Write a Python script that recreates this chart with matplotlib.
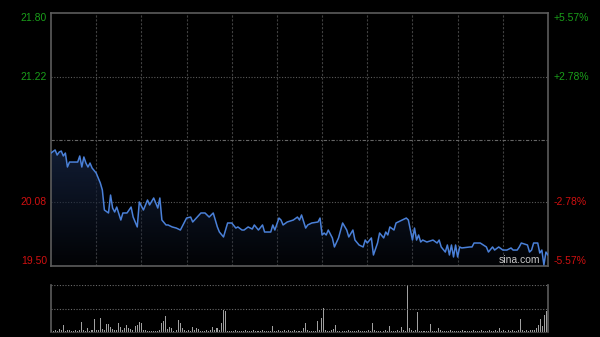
import matplotlib.pyplot as plt
import numpy as np

# price samples (minute index, price)
minutes = [0, 2, 3, 4, 5, 6, 7, 8, 9, 13, 14, 15, 16, 17, 18, 19, 20, 22, 24, 25,
           26, 28, 29, 30, 31, 32, 34, 35, 37, 39, 40, 42, 43, 45, 47, 48, 50, 52, 53, 54,
           56, 57, 59, 61, 63, 66, 68, 69, 73, 75, 77, 79, 81, 82, 84, 86, 88, 90, 91, 93,
           94, 96, 98, 99, 101, 103, 104, 107, 108, 109, 111, 112, 113, 115, 118, 120, 121, 122, 124, 125,
           127, 130, 131, 132, 133, 134, 135, 137, 138, 140, 142, 144, 145, 147, 148, 150, 152, 153, 154, 156,
           157, 159, 160, 162, 163, 164, 165, 167, 168, 171, 173, 174, 175, 176, 177, 178, 179, 180, 181, 183,
           186, 188, 189, 190, 192, 193, 194, 195, 196, 197, 198, 199, 200, 204, 205, 206, 209, 212, 213, 215,
           216, 218, 220, 222, 224, 225, 227, 228, 229, 232, 233, 234, 235, 237, 238, 239, 240, 241, 242]
prices = [20.527, 20.555, 20.509, 20.536, 20.545, 20.500, 20.527, 20.400, 20.445, 20.445,
          20.500, 20.400, 20.491, 20.436, 20.400, 20.436, 20.391, 20.345, 20.255, 20.191,
          20.009, 19.982, 20.145, 20.027, 19.991, 20.036, 19.918, 19.982, 19.982, 20.036,
          19.945, 19.855, 20.082, 20.009, 20.100, 20.055, 20.118, 20.027, 20.118, 19.918,
          19.873, 19.873, 19.855, 19.845, 19.827, 19.936, 19.945, 19.900, 19.982, 19.982,
          19.945, 19.982, 19.855, 19.809, 19.764, 19.891, 19.891, 19.845, 19.855, 19.827,
          19.827, 19.855, 19.836, 19.873, 19.827, 19.873, 19.809, 19.809, 19.873, 19.827,
          19.936, 19.918, 19.873, 19.900, 19.918, 19.945, 19.918, 19.964, 19.845, 19.873,
          19.891, 19.900, 19.936, 19.782, 19.800, 19.782, 19.827, 19.755, 19.673, 19.755,
          19.891, 19.827, 19.764, 19.827, 19.736, 19.691, 19.673, 19.736, 19.709, 19.755,
          19.600, 19.709, 19.800, 19.755, 19.809, 19.782, 19.855, 19.827, 19.891, 19.918,
          19.936, 19.918, 19.827, 19.736, 19.845, 19.736, 19.782, 19.718, 19.736, 19.718,
          19.736, 19.709, 19.736, 19.673, 19.627, 19.691, 19.600, 19.691, 19.582, 19.691,
          19.582, 19.673, 19.664, 19.673, 19.673, 19.709, 19.709, 19.673, 19.627, 19.673,
          19.645, 19.673, 19.645, 19.645, 19.664, 19.645, 19.645, 19.673, 19.709, 19.691,
          19.627, 19.645, 19.709, 19.709, 19.618, 19.645, 19.510, 19.627, 19.600]

# volume per minute, relative to the tallest bar
volumes = [4, 3, 5, 3, 6, 4, 15, 3, 4, 5, 3, 2, 4, 3, 5, 22, 4, 3, 8, 3, 4, 28,
           5, 4, 30, 6, 5, 17, 17, 10, 6, 5, 4, 19, 10, 5, 8, 15, 8, 6, 5, 13, 15, 21,
           19, 5, 4, 3, 3, 2, 3, 2, 3, 4, 19, 23, 34, 6, 10, 8, 3, 4, 26, 19, 8, 4,
           3, 4, 3, 10, 4, 8, 6, 3, 2, 3, 4, 3, 4, 10, 4, 8, 5, 19, 47, 45, 3, 2,
           3, 2, 4, 3, 3, 2, 3, 4, 2, 3, 3, 4, 3, 2, 3, 4, 3, 3, 2, 3, 13, 3,
           3, 4, 3, 2, 5, 3, 4, 2, 3, 4, 3, 2, 3, 8, 19, 4, 3, 2, 3, 3, 23, 4,
           30, 51, 5, 3, 2, 4, 6, 15, 3, 2, 3, 2, 3, 4, 3, 2, 3, 3, 4, 3, 2, 3,
           3, 4, 3, 19, 5, 3, 3, 2, 3, 4, 3, 13, 3, 2, 3, 4, 3, 10, 5, 3, 100, 8,
           5, 3, 4, 43, 3, 2, 3, 2, 3, 17, 3, 2, 3, 8, 4, 3, 2, 3, 3, 4, 2, 3,
           3, 2, 3, 4, 3, 2, 3, 3, 4, 2, 3, 3, 4, 3, 2, 3, 4, 3, 3, 4, 2, 8,
           3, 4, 3, 4, 3, 4, 3, 2, 5, 28, 5, 3, 4, 3, 4, 5, 4, 8, 15, 28, 13, 36,
           45]

prev_close = 20.65
y_ticks = [21.80, 21.22, 20.08, 19.50]
left_labels = ["21.80", "21.22", "20.08", "19.50"]
right_labels = ["+5.57%", "+2.78%", "-2.78%", "-5.57%"]
tick_colors = ["#1a9e1a", "#1a9e1a", "#d01010", "#d01010"]
label_va = ["top", "center", "center", "bottom"]

plt.rcParams['font.family'] = ['Liberation Sans', 'DejaVu Sans']

fig = plt.figure(figsize=(6, 3.37), dpi=100, facecolor="black")
ax = fig.add_axes([51 / 600, 71 / 337, 497 / 600, 253 / 337], facecolor="black")
axv = fig.add_axes([51 / 600, 5 / 337, 497 / 600, 47 / 337], facecolor="black")

ax.set_xlim(0, 242)
ax.set_ylim(19.50, 21.80)

# vertical grid, 11 sections
for gx in np.arange(22, 242, 22):
    ax.axvline(gx, color="#404040", lw=0.8, ls=(0, (2, 1.5)), zorder=1)
for gy in [21.22, 20.08]:
    ax.axhline(gy, color="#5a5a5a", lw=0.8, ls=(0, (1, 1.5)), zorder=1)
ax.axhline(prev_close, color="#666666", lw=0.8, ls=(0, (3, 1.5, 1, 1.5)), zorder=1)

# gradient fill under the price line
poly = ax.fill_between(minutes, prices, 19.50, color="none", lw=0)
grad = np.linspace(1, 0, 256).reshape(-1, 1)
cols = np.zeros((256, 1, 4))
cols[..., 0] = 0.07
cols[..., 1] = 0.11
cols[..., 2] = 0.20
cols[..., 3] = grad * 0.9 + 0.1
img = ax.imshow(cols, extent=[0, 242, 19.50, max(prices)], aspect="auto",
                origin="upper", zorder=2)
img.set_clip_path(poly.get_paths()[0], transform=ax.transData)

ax.plot(minutes, prices, color="#4a80d8", lw=1.1, zorder=3, clip_on=True)

for s in ax.spines.values():
    s.set_color("#5c5c5c")
    s.set_linewidth(1.2)

ax.set_xticks([])
ax.set_yticks(y_ticks)
ax.set_yticklabels(left_labels, fontsize=7.5)
for lab, c, va in zip(ax.get_yticklabels(), tick_colors, label_va):
    lab.set_color(c)
    lab.set_verticalalignment(va)
ax.tick_params(axis="y", length=0, pad=3)

ax2 = ax.twinx()
ax2.set_ylim(19.50, 21.80)
ax2.set_yticks(y_ticks)
ax2.set_yticklabels(right_labels, fontsize=7.5)
for lab, c, va in zip(ax2.get_yticklabels(), tick_colors, label_va):
    lab.set_color(c)
    lab.set_verticalalignment(va)
ax2.tick_params(axis="y", length=0, pad=4)
for s in ax2.spines.values():
    s.set_visible(False)

ax.text(0.985, 0.005, "sina.com", transform=ax.transAxes, ha="right", va="bottom",
        color="#c8c8c8", fontsize=7.5, zorder=5)

# volume panel
axv.bar(np.arange(len(volumes)), volumes, width=0.5, color="#a0a0a0", zorder=2)
axv.set_xlim(0, 242.5)
axv.set_ylim(0, 100)
axv.axhline(100, color="#6a6a6a", lw=0.8, ls=(0, (1, 1.5)))
axv.axhline(50, color="#6a6a6a", lw=0.8, ls=(0, (1, 1.5)))
axv.spines["top"].set_visible(False)
axv.spines["bottom"].set_color("#3a3a3a")
axv.spines["left"].set_color("#5c5c5c")
axv.spines["right"].set_color("#5c5c5c")
for s in ["left", "right"]:
    axv.spines[s].set_linewidth(1.2)
axv.set_xticks([])
axv.set_yticks([])

fig.savefig("out.png", dpi=100, facecolor="black")
